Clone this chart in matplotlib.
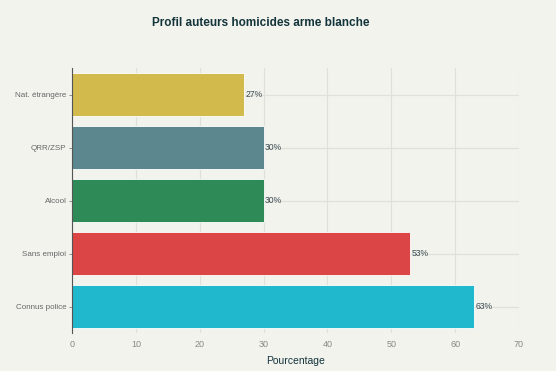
import matplotlib
matplotlib.use('Agg')
import matplotlib.pyplot as plt

categories = ['Connus police', 'Sans emploi', 'Alcool', 'QRR/ZSP', 'Nat. étrangère']
values = [63, 53, 30, 30, 27]
colors = ['#1FB8CD', '#DB4545', '#2E8B57', '#5D878F', '#D2BA4C']
x_ticks = [0, 10, 20, 30, 40, 50, 60, 70]

plt.rcParams['font.family'] = ['Liberation Sans', 'DejaVu Sans']
bg = '#F3F3EE'

fig = plt.figure(figsize=(5.56, 3.71), dpi=100, facecolor=bg)
ax = fig.add_axes([72/556, 1 - 333/371, (519 - 72)/556, (333 - 68)/371])
ax.set_facecolor(bg)

bars = ax.barh(categories, values, height=0.8, color=colors, edgecolor='white', linewidth=0.6, zorder=3)
for b, v in zip(bars, values):
    ax.text(b.get_width() + 0.2, b.get_y() + b.get_height()/2, f'{v}%',
            va='center', ha='left', fontsize=6.2, color='#3a4a50', zorder=4)

ax.set_xlim(0, 70)
ax.set_ylim(-0.5, 4.5)
ax.set_xticks(x_ticks)
ax.grid(True, color='#e0e0da', linewidth=0.8, zorder=0)
for s in ['top', 'right', 'bottom']:
    ax.spines[s].set_visible(False)
ax.spines['left'].set_color('#555555')
ax.spines['left'].set_linewidth(0.8)
ax.spines['left'].set_zorder(4)
ax.tick_params(axis='x', length=0, labelsize=6.5, colors='#888888', pad=5)
ax.tick_params(axis='y', length=2, labelsize=5.8, colors='#666666', width=0.5, pad=2)

ax.set_xlabel('Pourcentage', fontsize=7.5, color='#13343B', labelpad=5)
fig.text(261/556, 1 - 23/371, 'Profil auteurs homicides arme blanche', ha='center', va='center',
         fontsize=8.5, color='#13343B', fontweight='bold')

fig.savefig('out.png', dpi=100, facecolor=bg)
